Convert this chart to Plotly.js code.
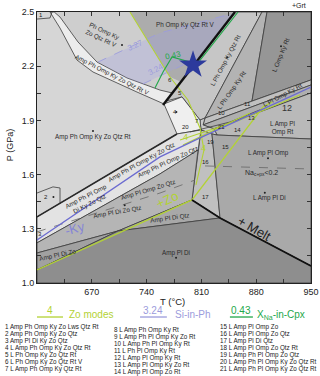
<!DOCTYPE html>
<html>
<head>
<meta charset="utf-8">
<script src="https://cdn.plot.ly/plotly-3.0.1.min.js"></script>
<style>
  html, body { margin: 0; padding: 0; background: #fff; }
  #chart { width: 320px; height: 376px; }
</style>
</head>
<body>
<div id="chart"></div>
<script>
// field polygons, [T (°C), P (GPa)]
var fieldTopLeft = [[622,2.5],[719,2.5],[770,2.14],[784,2.113],[772.5,2.052],[757,2.068],[715,2.135],[676.6,2.223],[652.4,2.334],[629.4,2.472]];
var fieldTopMid = [[719,2.5],[853,2.5],[784,2.113],[770,2.14]];
var bandV = [[622,2.5],[629.4,2.472],[652.4,2.334],[676.6,2.223],[715,2.135],[757,2.068],[772.5,2.052],[762.2,1.991],[727.7,2.057],[671.5,2.168],[651.1,2.234],[629.4,2.411],[616.6,2.5]];
var fieldLPhQtz = [[853,2.5],[887.4,2.5],[814.6,1.913],[808.2,1.902],[785.2,2.03],[764.8,2.007]];
var fieldLPhRt = [[887.4,2.5],[893.8,2.5],[874.6,2.007],[814.6,1.913]];
var fieldLOmpKyRt = [[893.8,2.5],[950,2.5],[950,2.124],[874.6,2.007]];
var field11 = [[814.6,1.913],[950,2.124],[950,2.096],[812.1,1.875]];
var field12 = [[812.1,1.875],[950,2.096],[950,2.052],[826.1,1.853]];
var fieldOmpRt = [[826.1,1.853],[950,2.052],[950,1.797],[829.9,1.819]];
var fieldCentre = [[808.2,1.902],[814.6,1.913],[812.1,1.875],[826.1,1.853],[829.9,1.819],[823.5,1.825],[809.5,1.847]];
var field4 = [[762.2,1.991],[785.2,2.03],[808.2,1.902],[809.5,1.847],[778.8,1.825]];
var fieldColumn = [[809.5,1.847],[823.5,1.825],[833.8,1.36],[798,1.46]];
var fieldLAmpPl = [[823.5,1.825],[829.9,1.819],[950,1.797],[950,1.094],[833.8,1.36]];
var bandPhPl = [[600,1.366],[778.8,1.825],[809.5,1.847],[805.7,1.736],[757.1,1.604],[600,1.222]];
var fieldAmpPlZoQtz = [[600,1.222],[757.1,1.604],[805.7,1.736],[798,1.46],[703.5,1.288],[600,1.166]];
var fieldAmpPlDiZo = [[600,1.166],[703.5,1.288],[600,1.072]];
var fieldAmpPlDiQtz = [[703.5,1.288],[798,1.46],[833.8,1.36]];
var fieldAmpPlDi = [[600,1.072],[703.5,1.288],[833.8,1.36],[950,1.094],[950,1.0],[600,1.0]];
var siPhZone = [[677.9,2.223],[757.1,2.384],[851.6,2.494],[808.2,2.251],[735.4,2.102],[715,2.135]];

// boundary lines
var mainBoundary = [[852.9,2.5],[761,1.985]];
var meltLine = [[798,1.46],[833.8,1.36],[950,1.094]];
var box1 = [[600,2.461],[616.6,2.467],[619.2,2.5]];
var box2 = [[600,1.498],[620.4,1.532],[629.4,1.526],[629.4,1.438]];
var fanLine = [[795.4,1.836],[846.5,1.891],[887.4,1.963]];
var naLeft = [[600,1.283],[757.1,1.498],[801.8,1.57]];
var naRight = [[814.6,1.648],[950,1.631]];
var kyOut = [[600,1.238],[757.1,1.698],[808.2,1.803],[872.1,1.93],[950,2.085]];
var zoIn = [[600,1.072],[798,1.46],[888.7,1.974],[900.2,2.002]];
var zoModeA = [[718.8,2.5],[769.9,2.14],[792.9,2.013],[808.2,1.858],[813.3,1.736],[803.1,1.543]];
var zoModeB = [[782.7,1.792],[859.3,1.902],[936,2.041]];
var zoModeC = [[786.5,1.764],[872.1,1.941]];
var xna043 = [[856.8,2.5],[804.4,2.212],[772.5,2.251],[761,2.168],[750.7,2.079]];
var si327 = [[677.9,2.223],[757.1,2.384],[851.6,2.494]];
var si324 = [[735.4,2.102],[808.2,2.251]];
var starPoint = [[799.3,2.207]];
var labelDots = [[708.6,2.317],[671.5,1.841],[911.7,2.31],[895.1,1.69],[891,1.5],[777.6,1.14],[712,1.43],[621,1.476],[843,2.25],[778,1.947]];

// field labels [T, P, text, angle, size]
var fieldLabels = [
  [684.3,2.373,'Ph Omp Ky<br>Zo Qtz Rt V',25,6.3],
  [695.8,2.151,'Amp Ph Omp Ky Zo Qtz Rt V',27,6.3],
  [671.5,1.808,'Amp Ph Omp Ky Zo Qtz Rt',0,6.3],
  [789.1,2.428,'Ph Omp Ky Qtz Rt V',0,6.3],
  [841.4,2.234,'L Ph Omp Ky Qtz Rt',-62,6.3],
  [849.1,2.068,'L Ph Omp Ky Rt',-55,6.3],
  [911.7,2.262,'L Omp Ky Rt',-68,6.3],
  [914.2,2.041,'L Pl Omp Ky Rt',-28,6.3],
  [914.2,1.858,'L Amp Pl<br>Omp Rt',0,6.3],
  [895.1,1.72,'L Amp Pl Omp',0,6.3],
  [887.4,1.609,'Na<sub>c+px</sub><0.2',0,7],
  [896.4,1.471,'L Amp Pl Di',0,6.3],
  [777.6,1.166,'Amp Pl Di',0,6.3],
  [769.9,1.36,'Amp Pl Di Qtz',-8,6.3],
  [702.2,1.393,'Amp Pl Di Zo Qtz',-10,6.3],
  [626.8,1.155,'Amp Pl Di Zo',-12,6.3],
  [741.8,1.515,'Amp Pl Omp Zo Qtz',-17,6.3],
  [734.1,1.67,'Amp Ph Pl Omp Ky Zo Qtz',-29,6.3],
  [767,1.67,'Amp Ph Pl Omp Zo Qtz',-25,6.3],
  [665.1,1.46,'Amp Ph Pl Omp<br>Di Ky Zo Qtz',-27,6.3]
];
// small field numbers [T, P, text]
var fieldNumbers = [
  [605.1,2.483,'1'],[611.5,1.476,'2'],[603.8,1.272,'3'],[776.3,1.947,'4'],[782.7,2.052,'5'],
  [769.9,2.124,'6'],[804.4,1.897,'7'],[836.3,1.941,'10'],[869.5,1.991,'11'],[874.6,1.913,'13'],
  [855.5,1.847,'14'],[840.2,1.753,'15'],[814.6,1.67,'16'],[814.6,1.476,'17'],[821,1.781,'19'],
  [790.3,1.864,'20'],[836.3,1.864,'21']
];
var bigLabels = [
  [919.4,1.969,'12',0,9,'#333'],
  [877.2,1.299,'+ Melt',30,13,'#222'],
  [648.5,1.299,'-Ky',-15,13,'#8585d6'],
  [767.3,1.46,'+Zo',-25,13,'#b3d235'],
  [790.3,1.808,'4',0,9,'#b3d235'],
  [812.1,1.747,'4',0,9,'#b3d235'],
  [773.7,2.262,'0.43',-12,8,'#22a84a'],
  [725.2,2.317,'3.27',-25,8,'#9c9cdc'],
  [752,2.179,'3.24',-28,8,'#9c9cdc']
];

var xTicks = [670,740,810,880,950];
var xMinorTicks = [635,705,775,845,915];
var yTicks = [1.0,1.3,1.6,1.9,2.2,2.5];
var yMinorTicks = [1.15,1.45,1.75,2.05,2.35];

var assemblages = ['Amp Ph Omp Ky Zo Lws Qtz Rt','Amp Ph Omp Ky Zo Qtz','Amp Pl Di Ky Zo Qtz',
  'L Amp Ph Omp Ky Zo Qtz Rt','L Ph Omp Ky Zo Qtz Rt','L Ph Omp Ky Zo Qtz Rt V','L Amp Ph Omp Ky Qtz Rt',
  'L Amp Ph Omp Ky Rt','L Amp Ph Pl Omp Ky Zo Rt','L Amp Ph Pl Omp Ky Rt','L Ph Pl Omp Ky Rt',
  'L Amp Pl Omp Ky Rt','L Amp Pl Omp Ky Zo Rt','L Amp Pl Omp Zo Rt','L Amp Pl Omp Zo',
  'L Amp Pl Omp Zo Qtz','L Amp Pl Di Qtz','L Amp Pl Omp Zo Qtz Rt','L Amp Ph Pl Omp Zo Qtz',
  'L Amp Ph Pl Omp Ky Zo Qtz Rt','L Amp Ph Pl Omp Ky Zo Qtz Rt'];

var FONT = 'Liberation Sans, Arial, sans-serif';
var EDGE = '#3c3c3c';

function xs(pts, close) {
  var a = pts.map(function (p) { return p[0]; });
  if (close) a.push(pts[0][0]);
  return a;
}
function ys(pts, close) {
  var a = pts.map(function (p) { return p[1]; });
  if (close) a.push(pts[0][1]);
  return a;
}
function area(pts, fill, edge) {
  return {
    x: xs(pts, true), y: ys(pts, true), type: 'scatter', mode: 'lines',
    fill: 'toself', fillcolor: fill,
    line: { color: edge || fill, width: edge ? 0.8 : 0 },
    hoverinfo: 'skip', showlegend: false
  };
}
function path(pts, color, width, dash) {
  return {
    x: xs(pts), y: ys(pts), type: 'scatter', mode: 'lines',
    line: { color: color, width: width, dash: dash || 'solid' },
    hoverinfo: 'skip', showlegend: false
  };
}

var data = [
  area(fieldTopLeft, '#cecece'),
  area(fieldTopMid, '#acacac'),
  area(bandV, '#ececec', EDGE),
  area(fieldLPhQtz, '#c6c6c6', EDGE),
  area(fieldLPhRt, '#b3b3b3', EDGE),
  area(fieldLOmpKyRt, '#969696', EDGE),
  area(field11, '#c0c0c0', EDGE),
  area(field12, '#afafaf', EDGE),
  area(fieldOmpRt, '#b9b9b9', EDGE),
  area(fieldCentre, '#cacaca', EDGE),
  area(field4, '#efefef', EDGE),
  area(fieldColumn, '#c0c0c0', EDGE),
  area(fieldLAmpPl, '#a9a9a9', EDGE),
  area(bandPhPl, '#e3e3e3', EDGE),
  area(fieldAmpPlZoQtz, '#b5b5b5', EDGE),
  area(fieldAmpPlDiZo, '#a1a1a1', EDGE),
  area(fieldAmpPlDiQtz, '#a8a8a8', EDGE),
  area(fieldAmpPlDi, '#8e8e8e', EDGE),
  area(siPhZone, 'rgba(160,160,235,0.27)'),
  path(box1, EDGE, 0.8),
  path(box2, EDGE, 0.8),
  path(fanLine, EDGE, 0.8),
  path(naLeft, '#666', 0.8, 'dash'),
  path(naRight, '#666', 0.8, 'dash'),
  path(si327, '#9c9cdc', 0.9, 'dash'),
  path(si324, '#9c9cdc', 0.9, 'dash'),
  path(zoIn, '#b3d235', 1.3),
  path(zoModeA, '#b3d235', 1.1),
  path(zoModeB, '#b3d235', 1.1),
  path(zoModeC, '#b3d235', 1.1),
  path(kyOut, '#6b6bd0', 1.3),
  path(bandPhPl.slice(0, 2), '#2a2a2a', 1.6),
  path(mainBoundary, '#111', 2.4),
  path(xna043, '#22a84a', 1.1),
  path(meltLine, '#111', 1.8),
  {
    x: xs(labelDots), y: ys(labelDots), type: 'scatter', mode: 'markers',
    marker: { size: 2, color: '#222' }, hoverinfo: 'skip', showlegend: false
  },
  {
    x: xs(starPoint), y: ys(starPoint), type: 'scatter', mode: 'markers',
    marker: { symbol: 'star', size: 21, color: '#2c3a9c', line: { width: 0 } },
    hoverinfo: 'skip', showlegend: false
  }
];

var annotations = [];
fieldLabels.forEach(function (l) {
  annotations.push({ x: l[0], y: l[1], text: l[2], textangle: l[3], showarrow: false,
    font: { family: FONT, size: l[4], color: '#2a2a2a' } });
});
fieldNumbers.forEach(function (l) {
  annotations.push({ x: l[0], y: l[1], text: l[2], showarrow: false,
    font: { family: FONT, size: 6, color: '#222' } });
});
bigLabels.forEach(function (l) {
  annotations.push({ x: l[0], y: l[1], text: l[2], textangle: l[3], showarrow: false,
    font: { family: FONT, size: l[4], color: l[5] } });
});

function paperText(x, y, text, size, color, anchor, angle) {
  annotations.push({ xref: 'paper', yref: 'paper', x: x, y: y, text: text, showarrow: false,
    xanchor: anchor || 'center', yanchor: 'middle', textangle: angle || 0,
    font: { family: FONT, size: size, color: color } });
}
paperText(0.99, 1.024, '+Grt', 7, '#222', 'right');
paperText(0.493, -0.07, 'T (°C)', 9.5, '#222');
paperText(-0.098, 0.509, 'P (GPa)', 9, '#222', 'center', -90);
paperText(0.047, -0.103, '4', 10, '#b3d235');
paperText(0.11, -0.118, 'Zo modes', 10, '#b3d235', 'left');
paperText(0.423, -0.103, '3.24', 10, '#9c9cdc');
paperText(0.496, -0.118, 'Si-in-Ph', 10, '#9c9cdc', 'left');
paperText(0.745, -0.103, '0.43', 10, '#22a84a');
paperText(0.796, -0.118, 'X<sub>Na</sub>-in-Cpx', 10, '#22a84a', 'left');

var colX = [-0.124, 0.274, 0.661];
var colTop = [-0.162, -0.173, -0.162];
assemblages.forEach(function (name, i) {
  var c = Math.floor(i / 7), r = i % 7;
  paperText(colX[c], colTop[c] - r * 0.0258, (i + 1) + ' ' + name, 6.3, '#222', 'left');
});

var keyLine = function (x0, x1, color) {
  return { type: 'line', xref: 'paper', yref: 'paper', x0: x0, x1: x1, y0: -0.1255, y1: -0.1255,
    line: { color: color, width: 1.3 } };
};

var layout = {
  width: 320, height: 376,
  margin: { l: 37, r: 9, t: 12, b: 93 },
  paper_bgcolor: '#ffffff',
  plot_bgcolor: '#d6d6d6',
  showlegend: false,
  font: { family: FONT, color: '#222' },
  xaxis: {
    range: [600, 950], tickmode: 'array', tickvals: xTicks,
    ticks: 'inside', ticklen: 4, tickcolor: '#333', mirror: 'ticks',
    minor: { tickvals: xMinorTicks, ticks: 'inside', ticklen: 4, tickcolor: '#333', showgrid: false },
    showline: true, linecolor: '#222', linewidth: 1,
    showgrid: false, zeroline: false, tickfont: { size: 9, color: '#222' }
  },
  yaxis: {
    range: [1.0, 2.5], tickmode: 'array', tickvals: yTicks, tickformat: '.1f',
    ticks: 'inside', ticklen: 4, tickcolor: '#333', mirror: 'ticks',
    minor: { tickvals: yMinorTicks, ticks: 'inside', ticklen: 4, tickcolor: '#333', showgrid: false },
    showline: true, linecolor: '#222', linewidth: 1,
    showgrid: false, zeroline: false, tickfont: { size: 9, color: '#222' }
  },
  shapes: [
    keyLine(0, 0.095, '#b3d235'),
    keyLine(0.376, 0.474, '#9c9cdc'),
    keyLine(0.704, 0.788, '#22a84a')
  ],
  annotations: annotations
};

Plotly.newPlot('chart', data, layout, { displayModeBar: false, staticPlot: true });
</script>
</body>
</html>
